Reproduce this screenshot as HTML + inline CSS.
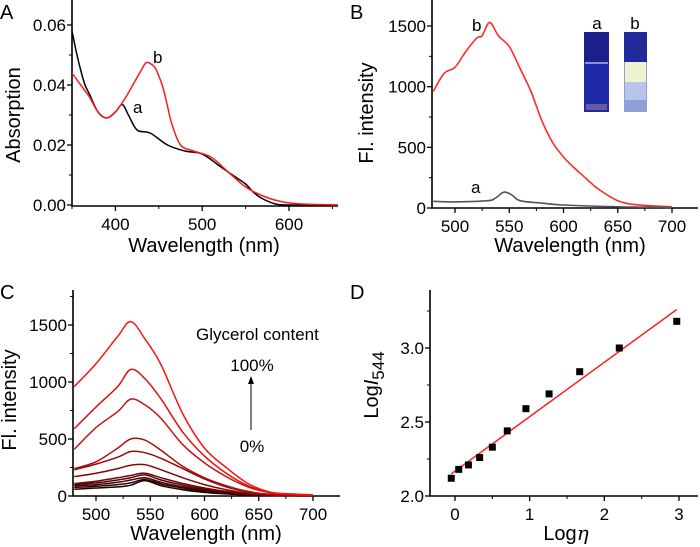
<!DOCTYPE html>
<html><head><meta charset="utf-8"><style>
body{margin:0;background:#fff}
svg{display:block;font-family:"Liberation Sans",sans-serif}
</style></head><body>
<svg id="s" width="700" height="547" viewBox="0 0 700 547"></svg>
<script>
// Panel A data
const aWl=[350,355,360,365,370,380,390,400,408,415,425,440,460,480,500,520,540,550,560,570,585,600,656];
const aBlack=[0.058,0.051,0.045,0.040,0.037,0.031,0.029,0.031,0.0335,0.030,0.025,0.024,0.020,0.018,0.017,0.013,0.009,0.007,0.004,0.002,0.0003,0,0];
const aRedWl=[350,360,370,380,390,400,410,420,430,436,445,450,455,460,465,475,490,510,530,550,570,590,610,656];
const aRed=[0.044,0.040,0.036,0.031,0.029,0.031,0.035,0.040,0.045,0.0475,0.046,0.043,0.039,0.033,0.027,0.020,0.018,0.016,0.011,0.006,0.003,0.0012,0.0004,0];
// Panel B data
const bWl=[480,490,500,510,520,525,532,540,550,560,570,580,590,600,610,620,630,640,650,660,670,680,700];
const bRed=[960,1110,1160,1290,1400,1420,1530,1420,1330,1150,960,720,540,420,330,250,170,110,60,35,25,18,10];
const bGreyWl=[480,500,530,537,545,552,560,580,600,650,700];
const bGrey=[55,50,60,80,130,110,60,40,25,10,5];
// Panel C data
const cWl=[480,500,520,532,545,560,580,600,620,640,660,680,700];
const cSeries=[
[960,1160,1400,1530,1380,1150,720,420,250,110,35,18,10],
[590,780,960,1110,1030,850,560,350,200,90,30,15,8],
[410,600,740,850,800,680,450,290,170,80,30,15,8],
[240,300,420,500,490,400,260,160,90,40,15,8,5],
[230,280,340,390,380,330,240,150,80,35,12,6,4],
[170,200,240,270,275,230,160,100,55,25,10,5,3],
[110,130,160,180,200,160,110,70,40,18,8,4,2],
[100,115,140,160,185,140,95,60,35,15,6,3,2],
[90,100,120,140,160,120,80,50,28,12,5,3,2],
[75,85,100,115,145,105,70,40,22,10,4,2,1],
[60,70,80,95,135,90,55,32,18,8,3,2,1]];
const cColors=["#ff1010","#e01010","#c81010","#b00c0c","#980a0a","#820808","#6c0606","#580404","#440303","#300202","#1a0000"];
// Panel D data
const dX=[-0.05,0.05,0.18,0.33,0.5,0.7,0.95,1.26,1.67,2.2,2.97];
const dY=[2.12,2.18,2.21,2.26,2.33,2.44,2.59,2.69,2.84,3.0,3.18];
const dFitX=[-0.05,2.97];
const dFitY=[2.15,3.26];
const aXT=[400,500,600], aYT=[0,0.02,0.04,0.06], aYL=["0.00","0.02","0.04","0.06"];
const bXT=[500,550,600,650,700], bYT=[0,500,1000,1500];
const dXT=[0,1,2,3], dYT=[2.0,2.5,3.0], dYL=["2.0","2.5","3.0"];

const S=document.getElementById('s');
const NS="http://www.w3.org/2000/svg";
function mk(t,a,txt){const e=document.createElementNS(NS,t);for(const k in a)e.setAttribute(k,a[k]);if(txt!=null)e.textContent=txt;S.appendChild(e);return e;}
function lin(d0,d1,r0,r1){return v=>r0+(v-d0)/(d1-d0)*(r1-r0);}
function path(xs,ys,X,Y){return xs.map((v,i)=>(i?"L":"M")+X(v).toFixed(1)+","+Y(ys[i]).toFixed(1)).join("");}
function spath(xs,ys,X,Y){const p=xs.map((v,i)=>[X(v),Y(ys[i])]);let d="M"+p[0][0].toFixed(1)+","+p[0][1].toFixed(1);
  for(let i=0;i<p.length-1;i++){const p0=p[Math.max(0,i-1)],p1=p[i],p2=p[i+1],p3=p[Math.min(p.length-1,i+2)];
    const c1=[p1[0]+(p2[0]-p0[0])/6,p1[1]+(p2[1]-p0[1])/6],c2=[p2[0]-(p3[0]-p1[0])/6,p2[1]-(p3[1]-p1[1])/6];
    d+="C"+c1[0].toFixed(1)+","+c1[1].toFixed(1)+" "+c2[0].toFixed(1)+","+c2[1].toFixed(1)+" "+p2[0].toFixed(1)+","+p2[1].toFixed(1);}
  return d;}
function axes(p,L,B,R,T,X,Y,xt,xl,yt,yl,xminor,yminor){
  const ax=mk('path',{d:`M${L},${T}V${B}H${R}`,stroke:'#000','stroke-width':1.6,fill:'none'});
  
  xt.forEach((v,i)=>{mk('line',{x1:X(v),x2:X(v),y1:B,y2:B+5,stroke:'#000','stroke-width':1.3});
    const t=mk('text',{x:X(v),y:B+24,'font-size':17,'text-anchor':'middle'},xl[i]);
    });
  xminor.forEach(v=>mk('line',{x1:X(v),x2:X(v),y1:B,y2:B+3,stroke:'#000','stroke-width':1}));
  yt.forEach((v,i)=>{mk('line',{x1:L-5,x2:L,y1:Y(v),y2:Y(v),stroke:'#000','stroke-width':1.3});
    const t=mk('text',{x:L-6,y:Y(v)+6,'font-size':17,'text-anchor':'end'},yl[i]);
    });
  yminor.forEach(v=>mk('line',{x1:L-3,x2:L,y1:Y(v),y2:Y(v),stroke:'#000','stroke-width':1}));
}
function label(x,y,txt,name,size,extra){const t=mk('text',Object.assign({x:x,y:y,'font-size':size||20},extra||{}),txt);
  return t;}

// ---- Panel A
{const X=lin(350,600,72,289),Y=lin(0,0.06,205,25);
axes('a',72,206,338,0,X,Y,aXT,aXT.map(String),aYT,aYL,[350,450,550,650],[0.01,0.03,0.05]);
let e=mk('path',{d:spath(aWl,aBlack,X,Y),stroke:'#000','stroke-width':1.5,fill:'none'});

e=mk('path',{d:spath(aRedWl,aRed,X,Y),stroke:'#ff1a1a','stroke-width':1.5,fill:'none'});

label(133,113,'a','label-a',17);label(153,63,'b','label-b',17);
label(0,19,'A','panel-a-letter',20);
label(204,252,'Wavelength (nm)','a-x-axis-title',20,{'text-anchor':'middle'});
label(20,115,'Absorption','a-y-axis-title',20,{'text-anchor':'middle',transform:'rotate(-90 20 115)'});}

// ---- Panel B
{const X=lin(500,700,455,672),Y=lin(0,1500,208,26);
axes('b',432,208,698,0,X,Y,bXT,bXT.map(String),bYT,bYT.map(String),[525,575,625,675],[250,750,1250]);
let e=mk('path',{d:spath(bWl,bRed,X,Y),stroke:'#ff2a2a','stroke-width':1.6,fill:'none'});

e=mk('path',{d:spath(bGreyWl,bGrey,X,Y),stroke:'#555','stroke-width':1.6,fill:'none'});

label(471,193,'a','b-label-a',17);label(472,31,'b','b-label-b',17);
label(350,19,'B','panel-b-letter',20);
label(570,252,'Wavelength (nm)','b-x-axis-title',20,{'text-anchor':'middle'});
label(373,113,'Fl. intensity','b-y-axis-title',20,{'text-anchor':'middle',transform:'rotate(-90 373 113)'});
label(597,29,'a','inset-label-a',17,{'text-anchor':'middle'});label(635,29,'b','inset-label-b',17,{'text-anchor':'middle'});
e=mk('rect',{x:584,y:32,width:25,height:80,fill:'#1f2aa8'});
mk('rect',{x:584,y:32,width:25,height:30,fill:'#1a1f8c'});mk('rect',{x:585,y:62,width:23,height:2,fill:'#8a90d8'});
mk('rect',{x:586,y:104,width:21,height:6,fill:'#6a5aa0'});
e=mk('rect',{x:624,y:32,width:23,height:80,fill:'#8fa0d8'});
mk('rect',{x:624,y:32,width:23,height:30,fill:'#202a9a'});mk('rect',{x:625,y:62,width:21,height:20,fill:'#f0f3d0'});
mk('rect',{x:625,y:82,width:21,height:18,fill:'#b8c4e8'});}

// ---- Panel C
{const X=lin(500,700,96,313),Y=lin(0,1500,496,325);
axes('c',73,496,340,290,X,Y,bXT,bXT.map(String),bYT,bYT.map(String),[525,575,625,675],[250,750,1250,1750]);
for(let i=cSeries.length-1;i>=0;i--){const e=mk('path',{d:spath(cWl,cSeries[i],X,Y),stroke:cColors[i],'stroke-width':1.5,fill:'none'});
}
label(0,299,'C','panel-c-letter',20);
label(196,340,'Glycerol content','glycerol-content-label',17);
label(252,371,'100%','label-100',17,{'text-anchor':'middle'});
label(252,452,'0%','label-0',17,{'text-anchor':'middle'});
let e=mk('line',{x1:251,y1:430,x2:251,y2:382,stroke:'#000','stroke-width':1});
mk('path',{d:'M248,384L251,376L254,384Z',fill:'#000'});
label(206,540,'Wavelength (nm)','c-x-axis-title',20,{'text-anchor':'middle'});
label(16,400,'Fl. intensity','c-y-axis-title',20,{'text-anchor':'middle',transform:'rotate(-90 16 400)'});}

// ---- Panel D
{const X=lin(0,3,455,679),Y=lin(2,3,496,348);
axes('d',430,496,698,290,X,Y,dXT,dXT.map(String),dYT,dYL,[0.5,1.5,2.5],[2.25,2.75,3.25]);
let e=mk('path',{d:path(dFitX,dFitY,X,Y),stroke:'#ff2020','stroke-width':1.5,fill:'none'});

dX.forEach((v,i)=>{const r=mk('rect',{x:X(v)-3.5,y:Y(dY[i])-3.5,width:7,height:7,fill:'#000'});
});
label(350,299,'D','panel-d-letter',20);
const t=label(566,540,'Log','d-x-axis-title',20,{'text-anchor':'middle'});
const ts=document.createElementNS(NS,'tspan');ts.setAttribute('font-style','italic');ts.setAttribute('font-family','"DejaVu Serif",serif');ts.textContent='η';t.appendChild(ts);
const ty=label(378,385,'Log','d-y-axis-title',20,{'text-anchor':'middle',transform:'rotate(-90 378 385)'});
const t1=document.createElementNS(NS,'tspan');t1.setAttribute('font-style','italic');t1.textContent='I';ty.appendChild(t1);
const t2=document.createElementNS(NS,'tspan');t2.setAttribute('dy','6');t2.setAttribute('font-size','17');t2.textContent='544';ty.appendChild(t2);}
</script>
</body></html>
